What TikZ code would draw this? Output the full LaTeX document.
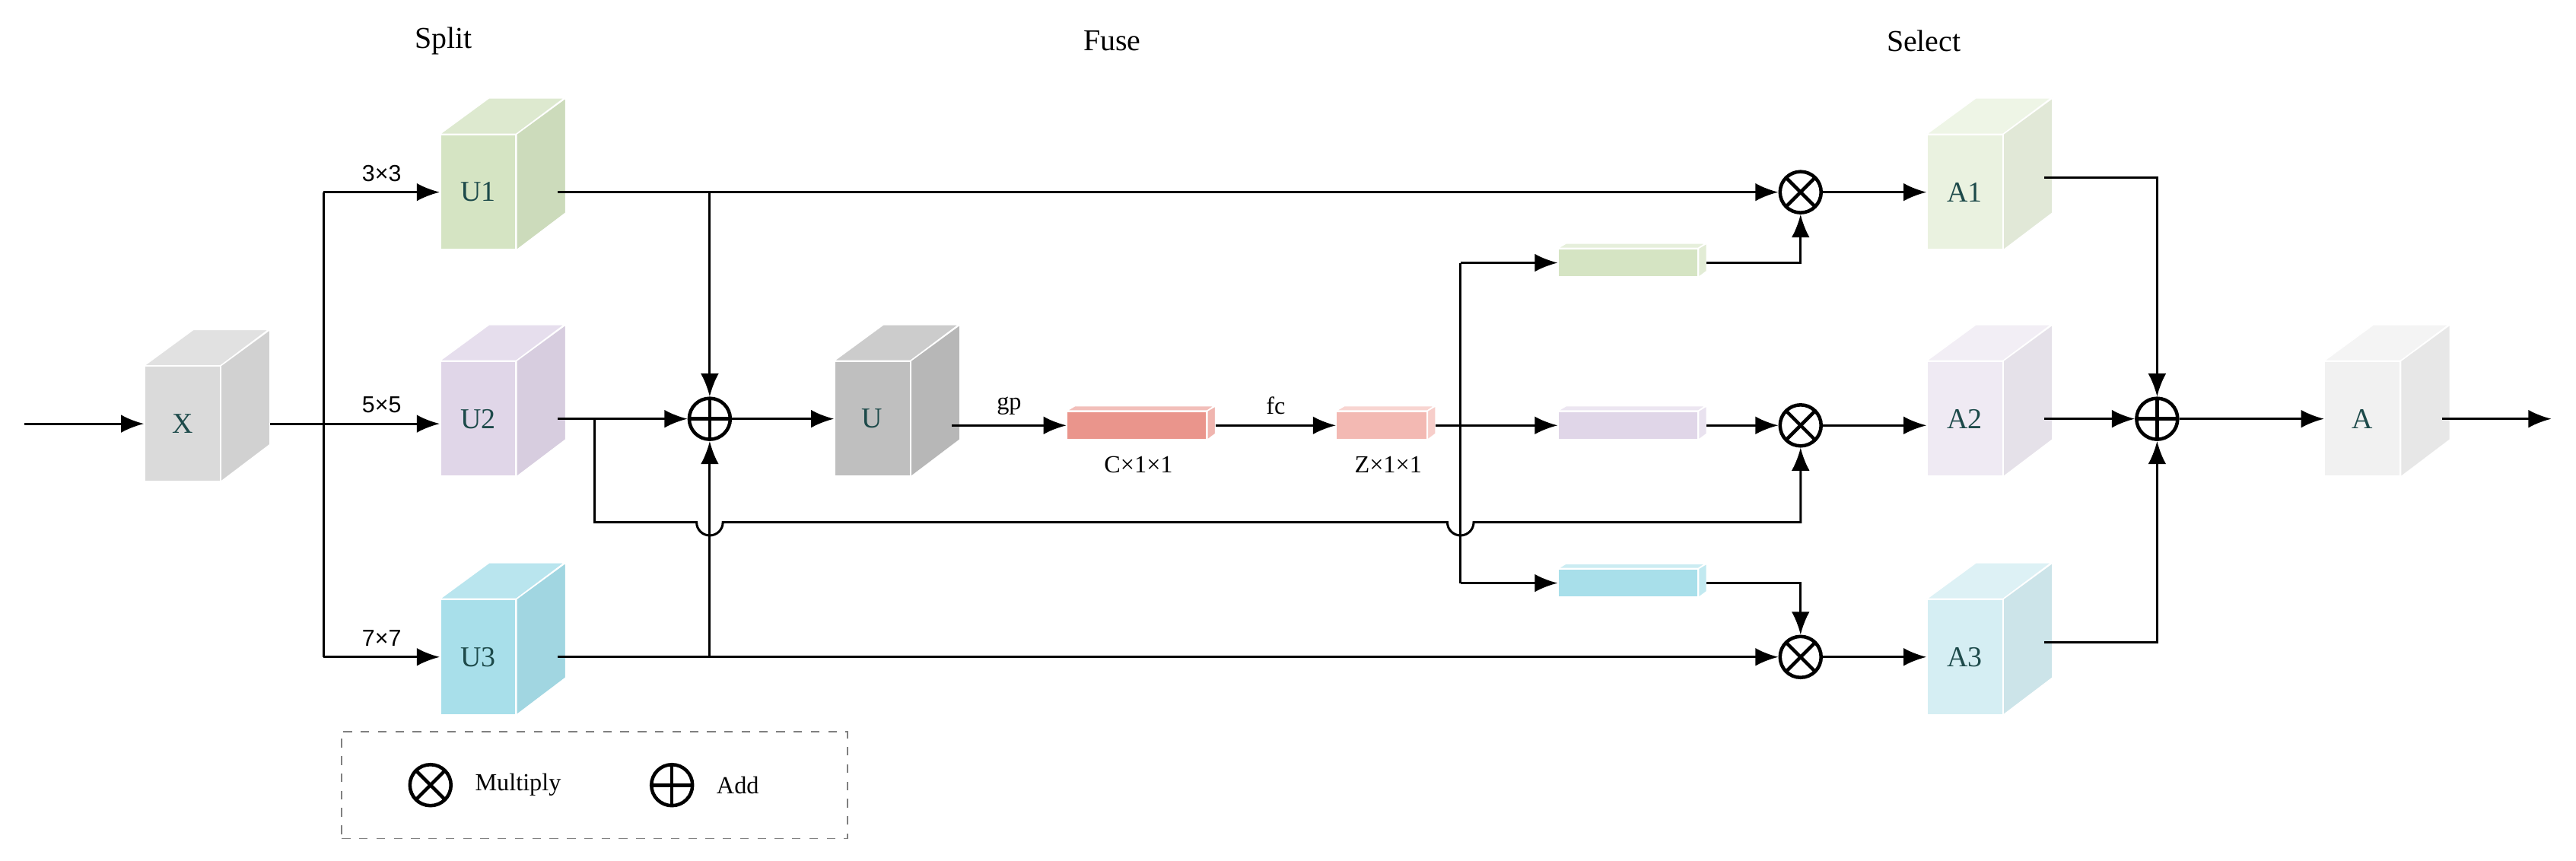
\documentclass[tikz,border=0pt]{standalone}
\usepackage{fontspec}
\setmainfont{Liberation Serif}
\newfontfamily\lsans{Liberation Sans}
\usetikzlibrary{calc,arrows.meta}
\definecolor{cgreen}{HTML}{D5E4C3}
\definecolor{cpurple}{HTML}{E0D6E8}
\definecolor{ccyan}{HTML}{A8DFEA}
\definecolor{cgrey}{HTML}{DADADA}
\definecolor{cdark}{HTML}{BFBFBF}
\definecolor{cagreen}{HTML}{EAF2E0}
\definecolor{capurple}{HTML}{EFEAF3}
\definecolor{cacyan}{HTML}{D5EEF3}
\definecolor{cwhite}{HTML}{F1F1F1}
\definecolor{cred}{HTML}{EA958C}
\definecolor{cpink}{HTML}{F3B9B3}
\definecolor{ctext}{HTML}{1D4A4A}

\tikzset{
    marrs/.style={thick,-{Latex[length=2.8mm,width=2.2mm]}},
    cube/.style={minimum width=0.92cm, minimum height=1.4cm, inner sep=0pt, draw=white, font=\fontsize{10}{12}\selectfont, text=ctext},
    bar/.style={minimum width=1.7cm, minimum height=0.34cm, inner sep=0pt, draw=white},
    op/.style={circle, very thick, draw, minimum size=0.5cm, inner sep=0pt},
    add/.style={op, path picture={\draw[very thick] (path picture bounding box.north) -- (path picture bounding box.south) (path picture bounding box.west) -- (path picture bounding box.east);}},
    mul/.style={op, path picture={\draw[very thick] (path picture bounding box.north west) -- (path picture bounding box.south east) (path picture bounding box.north east) -- (path picture bounding box.south west);}},
    lbl/.style={font=\fontsize{8.5}{10}\selectfont},
    ttl/.style={font=\fontsize{10.5}{12}\selectfont},
}

% front face node plus top and side faces
\newcommand{\cuboid}[4]{%
    \node[cube, fill=#3] (#1) at #2 {#4};
    \filldraw[fill=#3!80!white, draw=white] (#1.north west) -- ++(0.6cm,0.44cm) -- ++(0.92cm,0) -- (#1.north east) -- cycle;
    \filldraw[fill=#3!96!black, draw=white] (#1.north east) -- ++(0.6cm,0.44cm) -- ++(0,-1.4cm) -- (#1.south east) -- cycle;
}
\newcommand{\flatbar}[4]{%
    \node[bar, fill=#3, minimum width=#4] (#1) at #2 {};
    \filldraw[fill=#3!60!white, draw=white] (#1.north west) -- ++(0.1cm,0.06cm) -- ++(#4,0) -- (#1.north east) -- cycle;
    \filldraw[fill=#3!70!white, draw=white] (#1.north east) -- ++(0.1cm,0.06cm) -- ++(0,-0.34cm) -- (#1.south east) -- cycle;
}

\begin{document}
\begin{tikzpicture}[x=0.02cm, y=-0.02cm]
    \useasboundingbox (0,0) rectangle (1568,524);

    % titles
    \node[ttl] (tsplit) at (270,25) {Split};
    \node[ttl] (tfuse) at (677,25) {Fuse};
    \node[ttl] (tselect) at (1171,25) {Select};

    % cubes
    \cuboid{X}{(111,258)}{cgrey}{X}
    \cuboid{U1}{(291,117)}{cgreen}{U1}
    \cuboid{U2}{(291,255)}{cpurple}{U2}
    \cuboid{U3}{(291,400)}{ccyan}{U3}
    \cuboid{U}{(531,255)}{cdark}{U}
    \cuboid{A1}{(1196,117)}{cagreen}{A1}
    \cuboid{A2}{(1196,255)}{capurple}{A2}
    \cuboid{A3}{(1196,400)}{cacyan}{A3}
    \cuboid{A}{(1438,255)}{cwhite}{A}

    % bars
    \flatbar{cbar}{(692,259)}{cred}{1.7cm}
    \flatbar{zbar}{(841,259)}{cpink}{1.1cm}
    \node[lbl] (clbl) at (693,283) {C×1×1};
    \node[lbl] (zlbl) at (845,283) {Z×1×1};
    \flatbar{gbar}{(991,160)}{cgreen}{1.7cm}
    \flatbar{pbar}{(991,259)}{cpurple}{1.7cm}
    \flatbar{qbar}{(991,355)}{ccyan}{1.7cm}

    % operators
    \node[add] (add1) at (432,255) {};
    \node[add] (add2) at (1313,255) {};
    \node[mul] (m1) at (1096,117) {};
    \node[mul] (m2) at (1096,259) {};
    \node[mul] (m3) at (1096,400) {};

    % junctions
    \coordinate (in) at (15,258);
    \coordinate (sp1) at (197,117);
    \coordinate (sp2) at (197,258);
    \coordinate (sp3) at (197,400);
    \coordinate (j1) at (432,117);
    \coordinate (j3) at (432,400);
    \coordinate (b1) at (362,255);
    \coordinate (hop1) at (432,318);
    \coordinate (hop2) at (889,318);
    \coordinate (zt) at (889,160);
    \coordinate (zb) at (889,355);
    \coordinate (out) at (1553,255);

    % split
    \draw[marrs] (in) -- (X);
    \draw[thick] ([xshift=0.6cm]X.east) -- (sp2);
    \draw[thick] (sp1) -- (sp3);
    \draw[marrs] (sp1) -- node[lbl, above, font=\lsans\fontsize{8}{10}\selectfont] {3×3} (U1);
    \draw[marrs] (sp2) -- node[lbl, above, font=\lsans\fontsize{8}{10}\selectfont] {5×5} (U2.west |- sp2);
    \draw[marrs] (sp3) -- node[lbl, above, font=\lsans\fontsize{8}{10}\selectfont] {7×7} (U3);

    % fuse
    \draw[marrs] ([xshift=0.5cm]U1.east) -- (m1.west);
    \draw[marrs] (j1) -- (add1.north);
    \draw[marrs] ([xshift=0.5cm]U3.east) -- (m3.west);
    \draw[marrs] (j3) -- (add1.south);
    \draw[marrs] ([xshift=0.5cm]U2.east) -- (add1.west);
    \draw[marrs] (b1) |- ($(hop1)+(-8,0)$) arc[start angle=180, end angle=360, radius=0.16cm]
        -- ($(hop2)+(-8,0)$) arc[start angle=180, end angle=360, radius=0.16cm] -| (m2.south);
    \draw[marrs] (add1) -- (U);
    \draw[marrs] ([xshift=0.5cm]U.east |- cbar) -- node[lbl, above] {gp} (cbar.west);
    \draw[marrs] ([xshift=0.1cm]cbar.east) -- node[lbl, above] {fc} (zbar.west);

    % select
    \draw[thick] (zt) -- (zb);
    \draw[marrs] ([xshift=0.1cm]zbar.east) -- (pbar.west);
    \draw[marrs] (zt) -- (gbar.west);
    \draw[marrs] (zb) -- (qbar.west);
    \draw[marrs] ([xshift=0.1cm]gbar.east) -| (m1.south);
    \draw[marrs] ([xshift=0.1cm]pbar.east) -- (m2.west);
    \draw[marrs] ([xshift=0.1cm]qbar.east) -| (m3.north);
    \draw[marrs] (m1) -- (A1);
    \draw[marrs] (m2) -- (A2.west |- m2);
    \draw[marrs] (m3) -- (A3);
    \draw[marrs] ([xshift=0.5cm,yshift=0.18cm]A1.east) -| (add2.north);
    \draw[marrs] ([xshift=0.5cm]A2.east) -- (add2.west);
    \draw[marrs] ([xshift=0.5cm,yshift=0.18cm]A3.east) -| (add2.south);
    \draw[marrs] (add2) -- (A);
    \draw[marrs] ([xshift=0.5cm]A.east) -- (out);

    % legend
    \node[draw=gray, dashed, minimum width=6.16cm, minimum height=1.3cm] (legend) at (362,478) {};
    \node[mul] (lmul) at (262,478) {};
    \node[lbl, right] (lmultxt) at (283,478) {Multiply};
    \node[add] (ladd) at (409,478) {};
    \node[lbl, right] (laddtxt) at (430,478) {Add};
\end{tikzpicture}
\end{document}
